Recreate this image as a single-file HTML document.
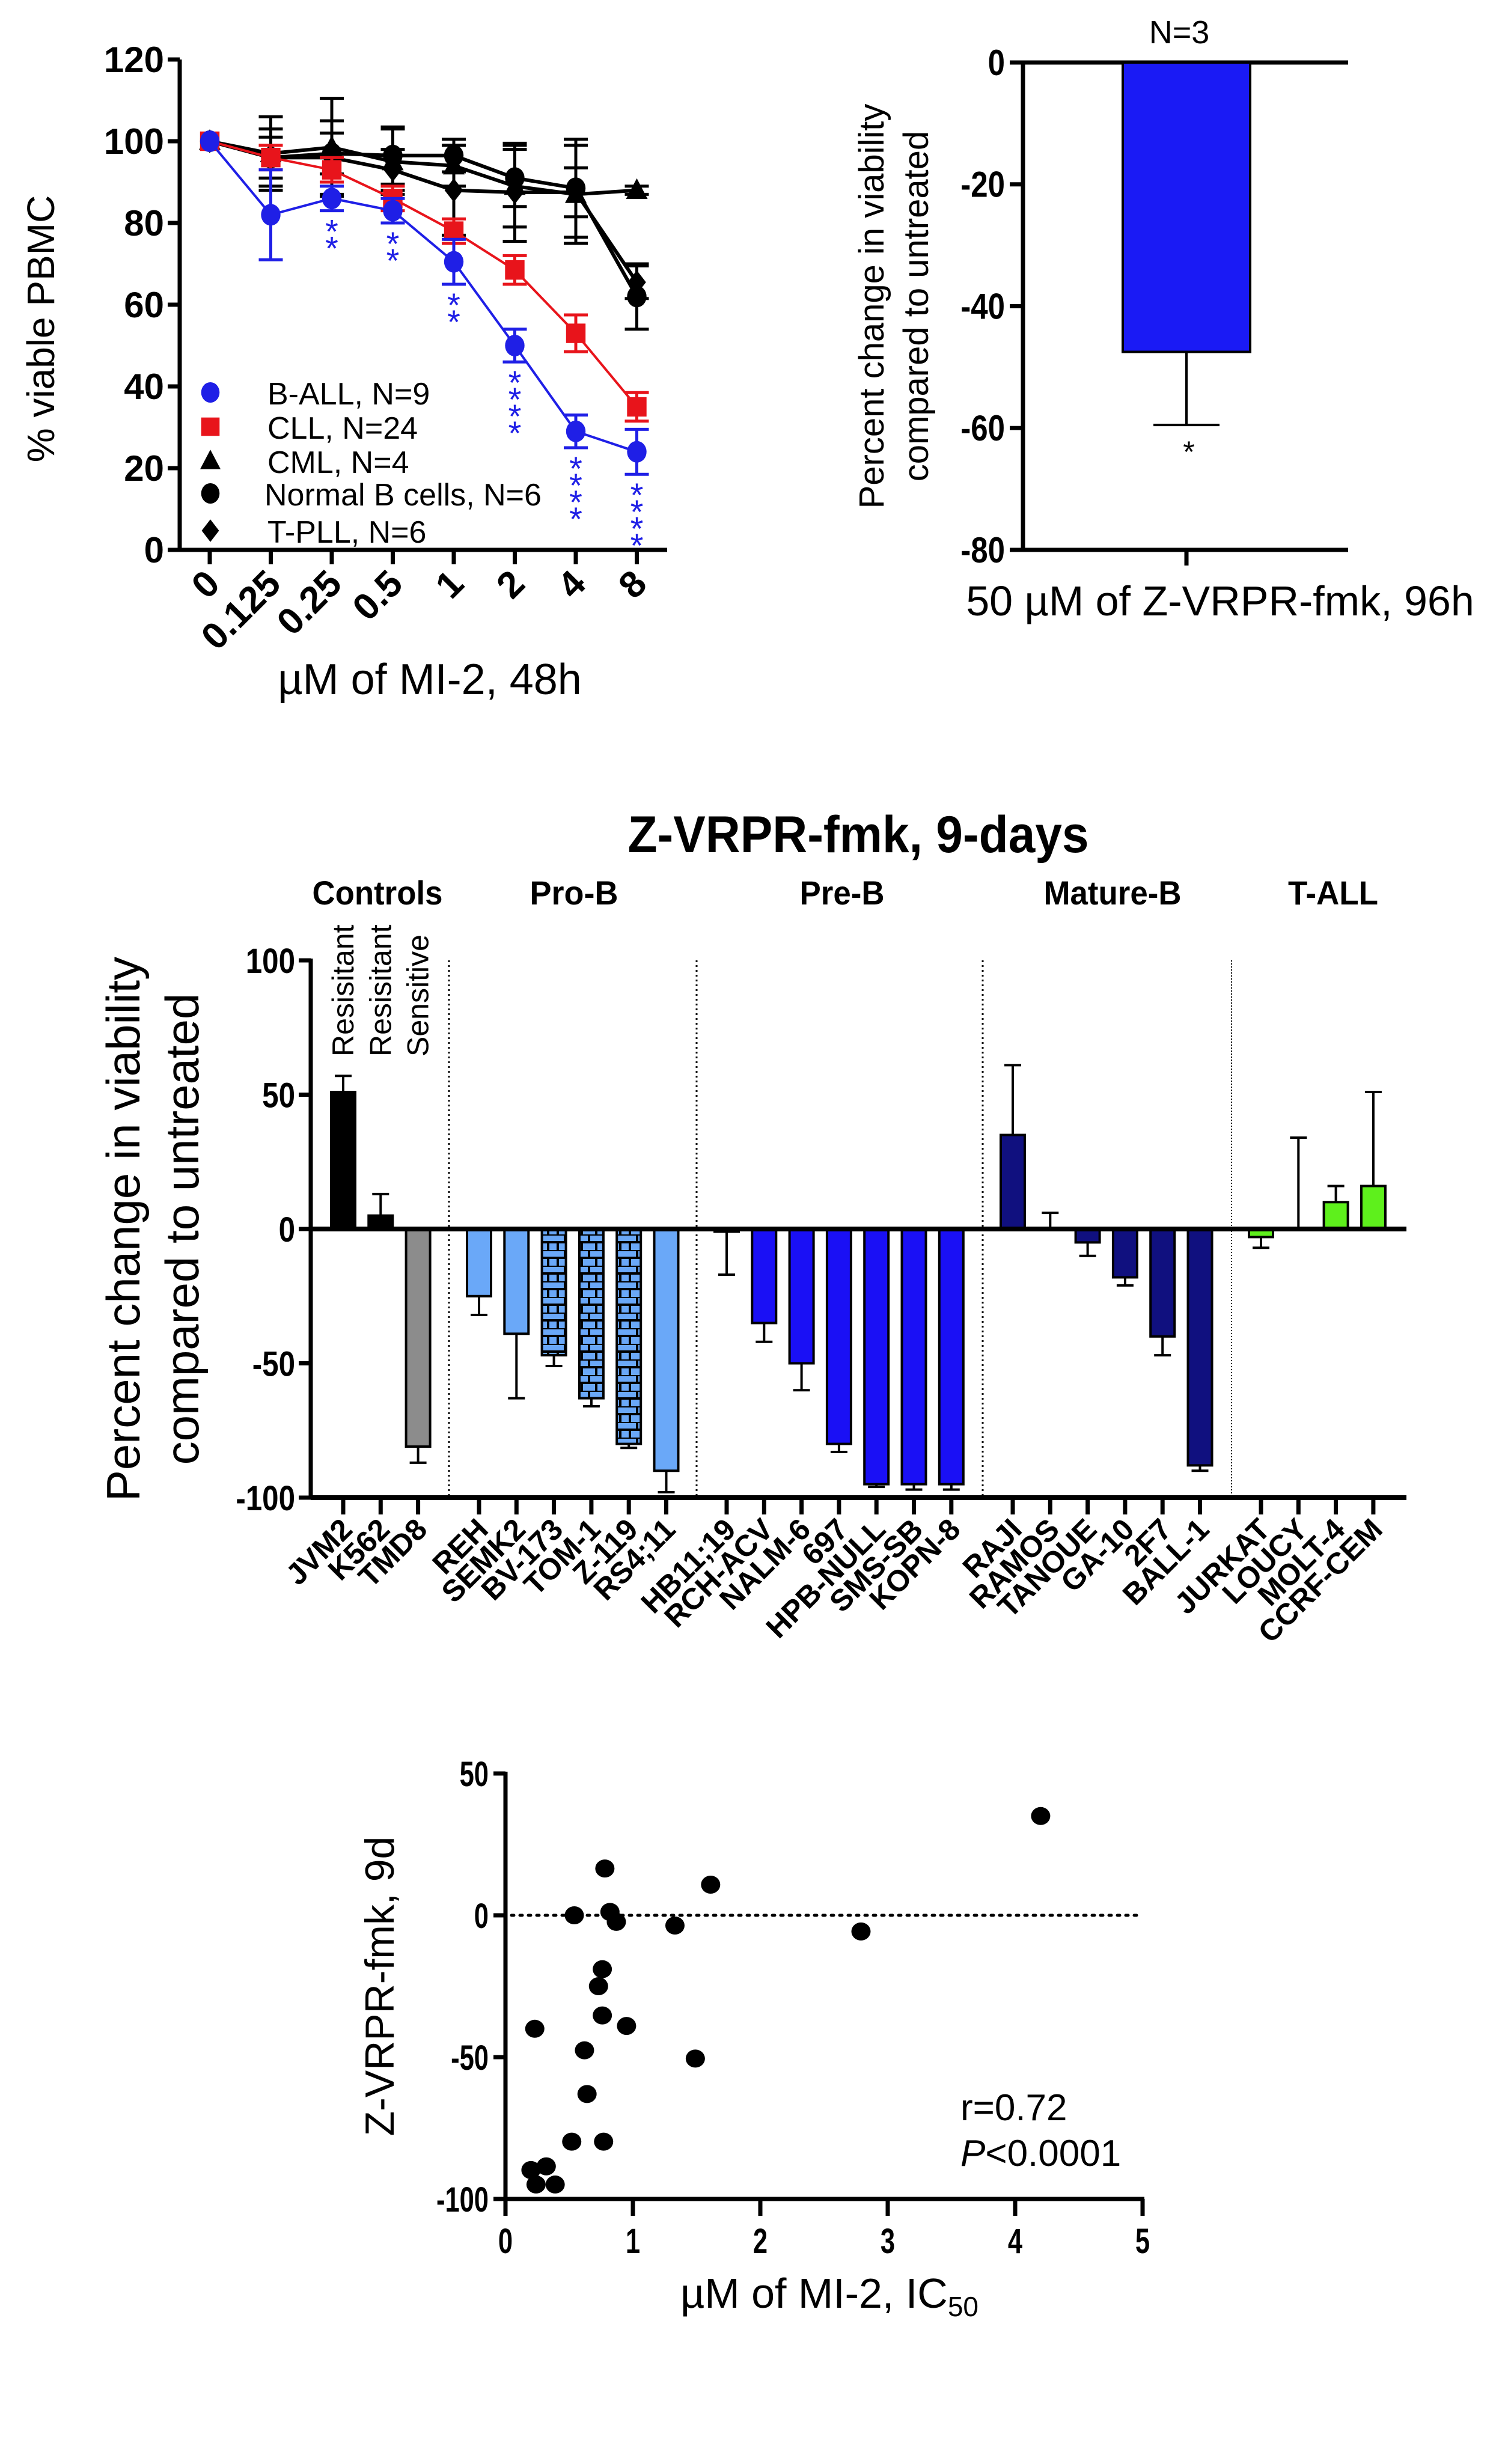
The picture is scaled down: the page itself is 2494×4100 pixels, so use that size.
<!DOCTYPE html>
<html><head><meta charset="utf-8"><title>MI-2 / Z-VRPR-fmk figure</title>
<style>
html,body{margin:0;padding:0;background:#fff;}
svg{display:block;font-family:"Liberation Sans",Arial,sans-serif;}
</style></head>
<body>
<svg id="fig" width="2494" height="4100" viewBox="0 0 2494 4100" xmlns="http://www.w3.org/2000/svg">
<defs>
<pattern id="brick" patternUnits="userSpaceOnUse" width="40" height="26" x="0" y="0">
<rect width="40" height="26" fill="#6aa8f8"/>
<line x1="0" y1="0" x2="40" y2="0" stroke="#000" stroke-width="4"/>
<line x1="0" y1="13" x2="40" y2="13" stroke="#000" stroke-width="4"/>
<line x1="20" y1="0" x2="20" y2="13" stroke="#000" stroke-width="4"/>
<line x1="8" y1="13" x2="8" y2="26" stroke="#000" stroke-width="4"/>
<line x1="32" y1="13" x2="32" y2="26" stroke="#000" stroke-width="4"/>
</pattern>
</defs>
<g id="c1"></g>
<g id="c2"></g>
<g id="c3"></g>
<g id="c4"></g>
</svg>
<script>
// ---------- Chart 1 data ----------
const doseLabels = ["0","0.125","0.25","0.5","1","2","4","8"];
const yTicks1 = [0,20,40,60,80,100,120];
const ballMean = [100,82,86,83,70.5,50,29,24];
const ballErr  = [0,11,3,3,5.5,4,4,5.5];
const cllMean  = [100,96,93,86,78,68.5,53,35];
const cllErr   = [0,3,3,3,3,3.5,4.5,3.5];
const cmlMean  = [100,97,98.5,95,94,89,87,88];
const cmlErr   = [0,9,12,8,5,10,12,1];
const normMean = [100,96,97,96.5,96.5,91,88.5,62];
const normErr  = [0,5,5,7,4,7,12,8];
const tpllMean = [100,96,96,93,88,87.5,87.5,65.5];
const tpllErr  = [0,7,9,5,11,12,6,4];
const ballStars = ["","","**","**","**","****","****","****"];
const legendLabels = ["B-ALL, N=9","CLL, N=24","CML, N=4","Normal B cells, N=6","T-PLL, N=6"];

// ---------- Chart 2 data ----------
const singleMean = [-47.5];
const singleErr = [12];
const yTicks2 = [0,-20,-40,-60,-80];

// ---------- Chart 3 data ----------
const groupNames = ["Controls","Pro-B","Pre-B","Mature-B","T-ALL"];
const controlsLines = ["JVM2","K562","TMD8"];
const controlsVals  = [51,5,-81];
const controlsErr   = [6,8,-6];
const proBLines = ["REH","SEMK2","BV-173","TOM-1","Z-119","RS4;11"];
const proBVals  = [-25,-39,-47,-63,-80,-90];
const proBErr   = [-7,-24,-4,-3,-1.5,-8];
const preBLines = ["HB11;19","RCH-ACV","NALM-6","697","HPB-NULL","SMS-SB","KOPN-8"];
const preBVals  = [-1,-35,-50,-80,-95,-95,-95];
const preBErr   = [-16,-7,-10,-3,-1,-2,-2];
const matBLines = ["RAJI","RAMOS","TANOUE","GA-10","2F7","BALL-1"];
const matBVals  = [35,0,-5,-18,-40,-88];
const matBErr   = [26,6,-5,-3,-7,-2];
const tallLines = ["JURKAT","LOUCY","MOLT-4","CCRF-CEM"];
const tallVals  = [-3,0,10,16];
const tallErr   = [-4,34,6,35];
const yTicks3 = [100,50,0,-50,-100];
const controlNotes = ["Resisitant","Resisitant","Sensitive"];

// ---------- Chart 4 data ----------
const scatterX = [0.2,0.23,0.24,0.32,0.39,0.54,0.52,0.62,0.64,0.76,0.73,0.76,0.77,0.78,0.82,0.87,0.95,1.33,1.49,1.61,2.79,4.2];
const scatterY = [-89.8,-40,-94.9,-88.5,-94.9,0,-79.8,-47.6,-63,-19,-25,-35.3,-79.8,16.5,1.2,-2.3,-39,-3.6,-50.5,10.8,-5.7,35];
const xTicks4 = [0,1,2,3,4,5];
const yTicks4 = [50,0,-50,-100];

const NS="http://www.w3.org/2000/svg";
function mk(parent,tag,attrs,text){const e=document.createElementNS(NS,tag);for(const k in attrs)e.setAttribute(k,attrs[k]);if(text!==undefined)e.textContent=text;parent.appendChild(e);return e;}

// ================= Chart 1 =================
(function(){
const g=document.getElementById('c1');
const X0=299,Y0=915,YT=99,XE=1110;
const y=v=>Y0-(v/120)*(Y0-YT);
const x=i=>349+i*101.5;
let e;
e=mk(g,'line',{x1:X0,y1:YT,x2:X0,y2:Y0+3,stroke:'#000','stroke-width':7});


e=mk(g,'line',{x1:X0-3,y1:Y0,x2:XE,y2:Y0,stroke:'#000','stroke-width':7});


yTicks1.forEach(v=>{
 e=mk(g,'line',{x1:X0-20,y1:y(v),x2:X0,y2:y(v),stroke:'#000','stroke-width':7});
 
 
 e=mk(g,'text',{x:X0-26,y:y(v)+21,'text-anchor':'end','font-size':60,'font-weight':'bold'},String(v));
 
 
});
doseLabels.forEach((l,i)=>{
 e=mk(g,'line',{x1:x(i),y1:Y0,x2:x(i),y2:Y0+24,stroke:'#000','stroke-width':7});
 
 
 e=mk(g,'text',{x:0,y:0,'text-anchor':'end','font-size':62,'font-weight':'bold',transform:`translate(${x(i)+20},${Y0+60}) rotate(-45)`},l);
 
 
});
e=mk(g,'text',{x:0,y:0,'text-anchor':'middle','font-size':64,transform:`translate(90,${(Y0+YT)/2+40}) rotate(-90)`},'% viable PBMC');


e=mk(g,'text',{x:715,y:1155,'text-anchor':'middle','font-size':72},'µM of MI-2, 48h');



const series=[
 {m:tpllMean,er:tpllErr,c:'#000',s:'diamond',n:'t-pll'},
 {m:cmlMean,er:cmlErr,c:'#000',s:'triangle',n:'cml'},
 {m:normMean,er:normErr,c:'#000',s:'circle',n:'normal-b'},
 {m:cllMean,er:cllErr,c:'#e8141b',s:'square',n:'cll'},
 {m:ballMean,er:ballErr,c:'#1f1fe6',s:'circle',n:'b-all'}
];
function marker(par,s,cx,cy,c,sz){
 if(s==='circle')return mk(par,'ellipse',{cx:cx,cy:cy,rx:sz*0.9,ry:sz,fill:c});
 if(s==='square')return mk(par,'rect',{x:cx-sz*0.9,y:cy-sz*0.9,width:sz*1.8,height:sz*1.8,fill:c});
 if(s==='triangle')return mk(par,'polygon',{points:`${cx},${cy-sz*1.1} ${cx-sz},${cy+sz*0.8} ${cx+sz},${cy+sz*0.8}`,fill:c});
 return mk(par,'polygon',{points:`${cx},${cy-sz*1.1} ${cx+sz*0.85},${cy} ${cx},${cy+sz*1.1} ${cx-sz*0.85},${cy}`,fill:c});
}
series.forEach(sr=>{
 const sg=mk(g,'g',{});
 
 
 const pts=sr.m.map((v,i)=>`${x(i)},${y(v)}`).join(' ');
 e=mk(sg,'polyline',{points:pts,fill:'none',stroke:sr.c,'stroke-width':sr.c==='#000'?6:4});
 
 
 sr.m.forEach((v,i)=>{
  const er=sr.er[i];
  if(er>0){
   const eg=mk(sg,'g',{stroke:sr.c,'stroke-width':5});
   
   
   mk(eg,'line',{x1:x(i),y1:y(v+er),x2:x(i),y2:y(v-er)});
   mk(eg,'line',{x1:x(i)-20,y1:y(v+er),x2:x(i)+20,y2:y(v+er)});
   mk(eg,'line',{x1:x(i)-20,y1:y(v-er),x2:x(i)+20,y2:y(v-er)});
  }
  e=marker(sg,sr.s,x(i),y(v),sr.c,18);
  
  
 });
});
ballStars.forEach((s,i)=>{
 if(!s)return;
 const base=y(ballMean[i]-ballErr[i])+20;
 for(let k=0;k<s.length;k++){
  e=mk(g,'text',{x:x(i),y:base+k*28+34,'text-anchor':'middle','font-size':56,fill:'#1f1fe6'},'*');
  
  
 }
});
const legShapes=[['circle','#1f1fe6'],['square','#e8141b'],['triangle','#000'],['circle','#000'],['diamond','#000']];
const legY=[655,712,769,823,885];
legendLabels.forEach((l,i)=>{
 const lg=mk(g,'g',{});
 
 
 marker(lg,legShapes[i][0],350,legY[i]-2,legShapes[i][1],17);
 mk(lg,'text',{x:i===3?440:445,y:legY[i]+18,'font-size':52},l);
});
})();

// ================= Chart 2 =================
(function(){
const g=document.getElementById('c2');
const X0=1702,Y0=104,YB=915,XE=2243;
const y=v=>Y0+(-v/80)*(YB-Y0);
let e;
e=mk(g,'line',{x1:X0,y1:Y0-3,x2:X0,y2:YB+3,stroke:'#000','stroke-width':7});


e=mk(g,'line',{x1:X0,y1:Y0,x2:XE,y2:Y0,stroke:'#000','stroke-width':7});


e=mk(g,'line',{x1:X0,y1:YB,x2:XE,y2:YB,stroke:'#000','stroke-width':7});


yTicks2.forEach(v=>{
 e=mk(g,'line',{x1:X0-22,y1:y(v),x2:X0,y2:y(v),stroke:'#000','stroke-width':7});
 
 
 e=mk(g,'text',{x:X0-30,y:y(v)+21,'text-anchor':'end','font-size':60,'font-weight':'bold',transform:`translate(${(X0-30)*0.15},0) scale(0.85,1)`},String(v));
 
 
});
const bx=1974;
e=mk(g,'rect',{x:bx-106,y:y(0),width:212,height:y(singleMean[0])-y(0),fill:'#1a1af5',stroke:'#000','stroke-width':4});


const eg=mk(g,'g',{stroke:'#000','stroke-width':4});


mk(eg,'line',{x1:bx,y1:y(singleMean[0]),x2:bx,y2:y(singleMean[0]-singleErr[0])});
mk(eg,'line',{x1:bx-55,y1:y(singleMean[0]-singleErr[0]),x2:bx+55,y2:y(singleMean[0]-singleErr[0])});
e=mk(g,'text',{x:bx+4,y:y(singleMean[0]-singleErr[0])+62,'text-anchor':'middle','font-size':50},'*');


e=mk(g,'line',{x1:bx,y1:YB,x2:bx,y2:YB+26,stroke:'#000','stroke-width':7});


e=mk(g,'text',{x:1962,y:72,'text-anchor':'middle','font-size':54},'N=3');


e=mk(g,'text',{x:2030,y:1024,'text-anchor':'middle','font-size':70},'50 µM of Z-VRPR-fmk, 96h');


const t=mk(g,'text',{x:0,y:0,'text-anchor':'middle','font-size':58,transform:`translate(1470,${(Y0+YB)/2}) rotate(-90)`});


mk(t,'tspan',{x:0,dy:0},'Percent change in viability');
mk(t,'tspan',{x:0,dy:74},'compared to untreated');
})();

// ================= Chart 3 =================
(function(){
const g=document.getElementById('c3');
const X0=517,Y100=1598,Y0=2045,YM=2492,XE=2340;
const y=v=>Y0-(v/100)*(Y0-Y100);
const groupStart=[571,797,1209,1685,2098];
const groupData=[
 [controlsLines,controlsVals,controlsErr,['#000','#000','#8c8c8c'],false],
 [proBLines,proBVals,proBErr,['#6aa8f8','#6aa8f8','url(#brick)','url(#brick)','url(#brick)','#6aa8f8'],false],
 [preBLines,preBVals,preBErr,null,'#1a10f5'],
 [matBLines,matBVals,matBErr,null,'#10107f'],
 [tallLines,tallVals,tallErr,null,'#5ef01c']
];
const step=62.3,bw=40;
let e;
e=mk(g,'text',{x:1428,y:1418,'text-anchor':'middle','font-size':86,'font-weight':'bold',textLength:767,lengthAdjust:'spacingAndGlyphs'},'Z-VRPR-fmk, 9-days');


const gl=[[628,217],[955,147],[1401,141],[1851,229],[2218,150]];
groupNames.forEach((n,i)=>{
 e=mk(g,'text',{x:gl[i][0],y:1505,'text-anchor':'middle','font-size':56,'font-weight':'bold',textLength:gl[i][1],lengthAdjust:'spacingAndGlyphs'},n);
 
 
});
[747,1159,1635,2049].forEach((dx,i)=>{
 e=mk(g,'line',{x1:dx,y1:Y100,x2:dx,y2:YM,stroke:'#000','stroke-width':i===3?2:3,'stroke-dasharray':i===3?'2,3':'3,5'});
 
 
});
groupData.forEach((gd,gi)=>{
 const [names,vals,errs,fills,fill]=gd;
 names.forEach((n,i)=>{
  const cx=groupStart[gi]+i*step;
  const v=vals[i];
  const top=Math.min(y(v),y(0)),h=Math.abs(y(v)-y(0));
  const er=errs[i];
  const eg=mk(g,'g',{stroke:'#000','stroke-width':4});
  
  
  mk(eg,'line',{x1:cx,y1:y(v),x2:cx,y2:y(v+er)});
  mk(eg,'line',{x1:cx-14,y1:y(v+er),x2:cx+14,y2:y(v+er)});
  if(h>0.5){
   e=mk(g,'rect',{x:cx-bw/2,y:top,width:bw,height:h,fill:fills?fills[i]:fill,stroke:'#000','stroke-width':4});
   
   
  }
  e=mk(g,'line',{x1:cx,y1:YM,x2:cx,y2:YM+28,stroke:'#000','stroke-width':7});
  
  
  e=mk(g,'text',{x:0,y:0,'text-anchor':'end','font-size':50,'font-weight':'bold',transform:`translate(${cx+18},${YM+56}) rotate(-45)`},n);
  
  
 });
});
controlNotes.forEach((n,i)=>{
 const cx=groupStart[0]+i*step+17;
 e=mk(g,'text',{x:0,y:0,'text-anchor':'start','font-size':50,transform:`translate(${cx},1758) rotate(-90)`},n);
 
 
});
e=mk(g,'line',{x1:X0,y1:Y0,x2:XE,y2:Y0,stroke:'#000','stroke-width':8});


e=mk(g,'line',{x1:X0,y1:Y100-3,x2:X0,y2:YM+3,stroke:'#000','stroke-width':7});


e=mk(g,'line',{x1:X0,y1:YM,x2:XE,y2:YM,stroke:'#000','stroke-width':8});


yTicks3.forEach(v=>{
 e=mk(g,'line',{x1:X0-20,y1:y(v),x2:X0,y2:y(v),stroke:'#000','stroke-width':7});
 
 
 e=mk(g,'text',{x:X0-26,y:y(v)+21,'text-anchor':'end','font-size':58,'font-weight':'bold',transform:`translate(${(X0-26)*0.15},0) scale(0.85,1)`},String(v));
 
 
});
const t=mk(g,'text',{x:0,y:0,'text-anchor':'middle','font-size':78,transform:`translate(232,${(Y100+YM)/2}) rotate(-90)`});


mk(t,'tspan',{x:0,dy:0},'Percent change in viability');
mk(t,'tspan',{x:0,dy:98},'compared to untreated');
})();

// ================= Chart 4 =================
(function(){
const g=document.getElementById('c4');
const X0=841,XE=1901,Y50=2951,Y0=3187,YM=3659;
const x=v=>X0+v/5*(XE-X0);
const y=v=>Y0-(v/50)*(Y0-Y50);
let e;
e=mk(g,'line',{x1:X0,y1:Y50-3,x2:X0,y2:YM+3,stroke:'#000','stroke-width':7});


e=mk(g,'line',{x1:X0,y1:YM,x2:XE+3,y2:YM,stroke:'#000','stroke-width':7});


e=mk(g,'line',{x1:X0+10,y1:y(0),x2:XE,y2:y(0),stroke:'#000','stroke-width':5,'stroke-dasharray':'4,10','stroke-linecap':'round'});


yTicks4.forEach(v=>{
 e=mk(g,'line',{x1:X0-20,y1:y(v),x2:X0,y2:y(v),stroke:'#000','stroke-width':7});
 
 
 e=mk(g,'text',{x:X0-28,y:y(v)+21,'text-anchor':'end','font-size':58,'font-weight':'bold',transform:`translate(${(X0-28)*0.25},0) scale(0.75,1)`},String(v));
 
 
});
xTicks4.forEach(v=>{
 e=mk(g,'line',{x1:x(v),y1:YM,x2:x(v),y2:YM+28,stroke:'#000','stroke-width':7});
 
 
 e=mk(g,'text',{x:x(v),y:YM+90,'text-anchor':'middle','font-size':58,'font-weight':'bold',transform:`translate(${x(v)*0.25},0) scale(0.75,1)`},String(v));
 
 
});
scatterX.forEach((vx,i)=>{
 e=mk(g,'ellipse',{cx:x(vx),cy:y(scatterY[i]),rx:16,ry:15,fill:'#000'});
 
 
});
e=mk(g,'text',{x:1598,y:3528,'font-size':62},'r=0.72');


const p=mk(g,'text',{x:1598,y:3604,'font-size':62});


mk(p,'tspan',{'font-style':'italic'},'P');
mk(p,'tspan',{},'<0.0001');
const xt=mk(g,'text',{x:1380,y:3840,'text-anchor':'middle','font-size':70});


mk(xt,'tspan',{},'µM of MI-2, IC');
mk(xt,'tspan',{'font-size':46,dy:14},'50');
e=mk(g,'text',{x:0,y:0,'text-anchor':'middle','font-size':68,transform:`translate(655,${(Y50+YM)/2}) rotate(-90)`},'Z-VRPR-fmk, 9d');


})();
</script>
</body></html>
